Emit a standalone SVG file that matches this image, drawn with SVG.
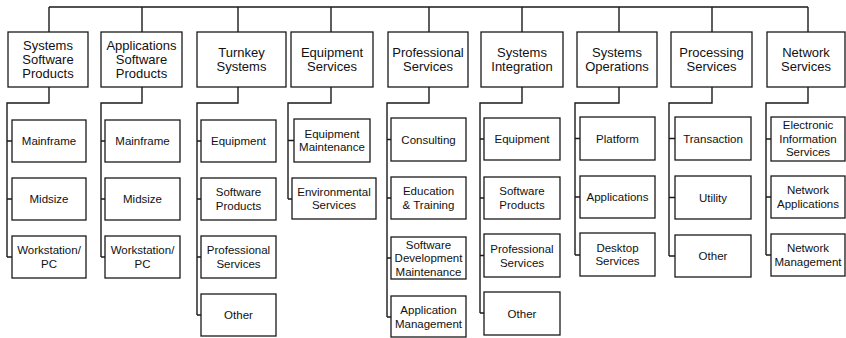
<svg xmlns="http://www.w3.org/2000/svg" width="846" height="338" viewBox="0 0 846 338">
<style>
.box{fill:#fff;stroke:#1a1a1a;stroke-width:1.3}
.conn{fill:none;stroke:#1a1a1a;stroke-width:1.4}
text{font-family:"Liberation Sans",Arial,Helvetica,sans-serif;text-anchor:middle;fill:#111}
.t{font-size:13px}
.s{font-size:11.5px}
</style>
<rect width="846" height="338" fill="#fff"/>
<g id="connectors" class="conn">
<path d="M49,7H808M49,7V32M142,7V32M238,7V32M331,7V32M429,7V32M522,7V32M619,7V32M712,7V32M808,7V32"/>
<path d="M49,87V103H7V257M7,141H12M7,199H12M7,257H12"/>
<path d="M142,87V103H101V257M101,141H105M101,199H105M101,257H105"/>
<path d="M238,87V103H197V315M197,141H201M197,199H201M197,257H201M197,315H201"/>
<path d="M331,87V103H288V199M288,140.5H294M288,199H292"/>
<path d="M429,87V103H387V317M387,139.5H391M387,198H391M387,258H391M387,317H391"/>
<path d="M522,87V103H480V313M480,139H484M480,198H484M480,255.5H484M480,313H484"/>
<path d="M619,87V103H575V255M575,138.5H580M575,197H580M575,255H580"/>
<path d="M712,87V103H669V256M669,138.5H675M669,197.5H675M669,256H675"/>
<path d="M808,87V103H766V255M766,139H771M766,197H771M766,255H771"/>
</g>
<g id="n1"><rect class="box" x="8" y="32" width="80" height="55"/><text class="t" x="48" y="50">Systems<tspan x="48" dy="14">Software</tspan><tspan x="48" dy="14">Products</tspan></text></g>
<g id="n2"><rect class="box" x="101" y="32" width="81" height="55"/><text class="t" x="141.5" y="50">Applications<tspan x="141.5" dy="14">Software</tspan><tspan x="141.5" dy="14">Products</tspan></text></g>
<g id="n3"><rect class="box" x="197" y="32" width="89" height="55"/><text class="t" x="241.5" y="56.5">Turnkey<tspan x="241.5" dy="14">Systems</tspan></text></g>
<g id="n4"><rect class="box" x="291" y="32" width="82" height="55"/><text class="t" x="332" y="56.5">Equipment<tspan x="332" dy="14">Services</tspan></text></g>
<g id="n5"><rect class="box" x="388" y="32" width="80" height="55"/><text class="t" x="428" y="56.5">Professional<tspan x="428" dy="14">Services</tspan></text></g>
<g id="n6"><rect class="box" x="481" y="32" width="82" height="55"/><text class="t" x="522" y="56.5">Systems<tspan x="522" dy="14">Integration</tspan></text></g>
<g id="n7"><rect class="box" x="577" y="32" width="80" height="55"/><text class="t" x="617" y="56.5">Systems<tspan x="617" dy="14">Operations</tspan></text></g>
<g id="n8"><rect class="box" x="671" y="32" width="81" height="55"/><text class="t" x="711.5" y="56.5">Processing<tspan x="711.5" dy="14">Services</tspan></text></g>
<g id="n9"><rect class="box" x="767" y="32" width="78" height="55"/><text class="t" x="806" y="56.5">Network<tspan x="806" dy="14">Services</tspan></text></g>

<g id="n1a"><rect class="box" x="12" y="120" width="74" height="42"/><text class="s" x="49" y="145">Mainframe</text></g>
<g id="n1b"><rect class="box" x="12" y="178" width="74" height="42"/><text class="s" x="49" y="203">Midsize</text></g>
<g id="n1c"><rect class="box" x="12" y="236" width="74" height="42"/><text class="s" x="49" y="254">Workstation/<tspan x="49" dy="13.5">PC</tspan></text></g>

<g id="n2a"><rect class="box" x="105" y="120" width="75" height="42"/><text class="s" x="142.5" y="145">Mainframe</text></g>
<g id="n2b"><rect class="box" x="105" y="178" width="75" height="42"/><text class="s" x="142.5" y="203">Midsize</text></g>
<g id="n2c"><rect class="box" x="105" y="236" width="75" height="42"/><text class="s" x="142.5" y="254">Workstation/<tspan x="142.5" dy="13.5">PC</tspan></text></g>

<g id="n3a"><rect class="box" x="201" y="120" width="75" height="42"/><text class="s" x="238.5" y="145">Equipment</text></g>
<g id="n3b"><rect class="box" x="201" y="178" width="75" height="42"/><text class="s" x="238.5" y="196">Software<tspan x="238.5" dy="13.5">Products</tspan></text></g>
<g id="n3c"><rect class="box" x="201" y="236" width="75" height="42"/><text class="s" x="238.5" y="254">Professional<tspan x="238.5" dy="13.5">Services</tspan></text></g>
<g id="n3d"><rect class="box" x="201" y="294" width="75" height="42"/><text class="s" x="238.5" y="319">Other</text></g>

<g id="n4a"><rect class="box" x="294" y="119" width="76" height="43"/><text class="s" x="332" y="137.5">Equipment<tspan x="332" dy="13.5">Maintenance</tspan></text></g>
<g id="n4b"><rect class="box" x="292" y="178" width="84" height="41"/><text class="s" x="334" y="195.5">Environmental<tspan x="334" dy="13.5">Services</tspan></text></g>

<g id="n5a"><rect class="box" x="391" y="118" width="75" height="43"/><text class="s" x="428.5" y="143.5">Consulting</text></g>
<g id="n5b"><rect class="box" x="391" y="177" width="75" height="42"/><text class="s" x="428.5" y="195">Education<tspan x="428.5" dy="13.5">&amp; Training</tspan></text></g>
<g id="n5c"><rect class="box" x="391" y="237" width="75" height="42"/><text class="s" x="428.5" y="248.5">Software<tspan x="428.5" dy="13.5">Development</tspan><tspan x="428.5" dy="13.5">Maintenance</tspan></text></g>
<g id="n5d"><rect class="box" x="391" y="296" width="75" height="41"/><text class="s" x="428.5" y="314">Application<tspan x="428.5" dy="13.5">Management</tspan></text></g>

<g id="n6a"><rect class="box" x="484" y="118" width="76" height="42"/><text class="s" x="522" y="143">Equipment</text></g>
<g id="n6b"><rect class="box" x="484" y="177" width="76" height="42"/><text class="s" x="522" y="195">Software<tspan x="522" dy="13.5">Products</tspan></text></g>
<g id="n6c"><rect class="box" x="484" y="234" width="76" height="43"/><text class="s" x="522" y="253">Professional<tspan x="522" dy="13.5">Services</tspan></text></g>
<g id="n6d"><rect class="box" x="484" y="292" width="76" height="43"/><text class="s" x="522" y="317.5">Other</text></g>

<g id="n7a"><rect class="box" x="580" y="117" width="75" height="43"/><text class="s" x="617.5" y="142.5">Platform</text></g>
<g id="n7b"><rect class="box" x="580" y="176" width="75" height="42"/><text class="s" x="617.5" y="201">Applications</text></g>
<g id="n7c"><rect class="box" x="580" y="233" width="75" height="43"/><text class="s" x="617.5" y="251.5">Desktop<tspan x="617.5" dy="13.5">Services</tspan></text></g>

<g id="n8a"><rect class="box" x="675" y="117" width="76" height="43"/><text class="s" x="713" y="142.5">Transaction</text></g>
<g id="n8b"><rect class="box" x="675" y="176" width="76" height="43"/><text class="s" x="713" y="201.5">Utility</text></g>
<g id="n8c"><rect class="box" x="675" y="235" width="76" height="42"/><text class="s" x="713" y="260">Other</text></g>

<g id="n9a"><rect class="box" x="771" y="117" width="74" height="44"/><text class="s" x="808" y="129">Electronic<tspan x="808" dy="13.5">Information</tspan><tspan x="808" dy="13.5">Services</tspan></text></g>
<g id="n9b"><rect class="box" x="771" y="176" width="74" height="42"/><text class="s" x="808" y="194">Network<tspan x="808" dy="13.5">Applications</tspan></text></g>
<g id="n9c"><rect class="box" x="771" y="234" width="74" height="42"/><text class="s" x="808" y="252">Network<tspan x="808" dy="13.5">Management</tspan></text></g>
</svg>
